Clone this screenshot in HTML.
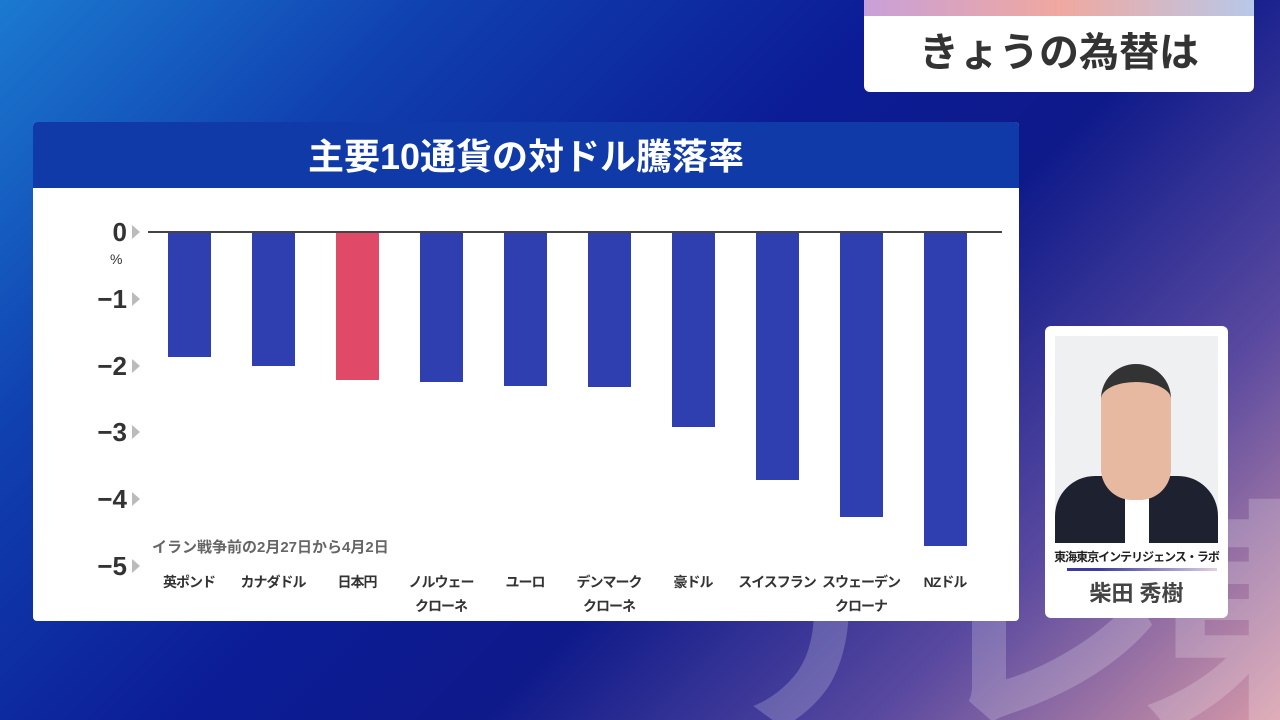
<!DOCTYPE html>
<html><head><meta charset="utf-8"><style>
html,body{margin:0;width:1280px;height:720px;overflow:hidden}
body{position:relative;font-family:"Liberation Sans","Noto Sans CJK JP",sans-serif;
background:linear-gradient(135deg,#1b7ad0 0%,#1040b0 22%,#0c1c96 45%,#0e1a8a 60%,#5a4aa0 80%,#d89aa8 100%);}
.abs{position:absolute}
</style></head><body>
<div class="abs" style="left:700px;top:500px;font-size:250px;color:rgba(255,255,255,0.2);font-weight:bold;letter-spacing:-30px;line-height:1;white-space:nowrap">テレ東</div>
<div class="abs" style="left:864px;top:0;width:390px;height:92px;background:#fff;border-radius:0 0 6px 6px;overflow:hidden">
 <div style="height:16px;background:linear-gradient(90deg,#c8a0d8,#f0a8a0,#b8c8e8)"></div>
 <div style="text-align:center;font-size:40px;font-weight:bold;color:#333;line-height:74px">きょうの為替は</div>
</div>
<div class="abs" style="left:33px;top:122px;width:986px;height:499px;background:#fff;border-radius:4px;overflow:hidden">
 <div style="height:66px;background:#0f3aa8;color:#fff;font-size:36px;font-weight:bold;text-align:center;line-height:70px">主要10通貨の対ドル騰落率</div>
</div>
<svg class="abs" style="left:0;top:0" width="1280" height="720">
<g font-family="Liberation Sans, Noto Sans CJK JP, sans-serif" font-weight="bold" fill="#333">
<g font-size="26" text-anchor="end">
<text x="127" y="241">0</text><text x="127" y="308">−1</text><text x="127" y="375">−2</text><text x="127" y="441">−3</text><text x="127" y="508">−4</text><text x="127" y="575">−5</text>
</g>
<text x="110" y="264" font-size="14" font-weight="normal">%</text>
<g fill="#bbb"><path d="M132 225l8 7-8 7z"/><path d="M132 292l8 7-8 7z"/><path d="M132 359l8 7-8 7z"/><path d="M132 425l8 7-8 7z"/><path d="M132 492l8 7-8 7z"/><path d="M132 559l8 7-8 7z"/></g>
<g fill="#2f3fb0">
<rect x="168" y="233" width="43" height="124"/><rect x="252" y="233" width="43" height="133"/>
<rect x="336" y="233" width="43" height="147" fill="#e04a68"/>
<rect x="420" y="233" width="43" height="149"/><rect x="504" y="233" width="43" height="153"/>
<rect x="588" y="233" width="43" height="154"/><rect x="672" y="233" width="43" height="194"/>
<rect x="756" y="233" width="43" height="247"/><rect x="840" y="233" width="43" height="284"/>
<rect x="924" y="233" width="43" height="313"/>
</g>
<line x1="148" y1="232" x2="1002" y2="232" stroke="#444" stroke-width="2"/>
<text x="152" y="552" font-size="15" fill="#666">イラン戦争前の2月27日から4月2日</text>
<g font-size="14" text-anchor="middle" letter-spacing="-1">
<text x="189" y="587">英ポンド</text><text x="273" y="587">カナダドル</text><text x="357" y="587">日本円</text>
<text x="441" y="587">ノルウェー</text><text x="441" y="611">クローネ</text>
<text x="525" y="587">ユーロ</text>
<text x="609" y="587">デンマーク</text><text x="609" y="611">クローネ</text>
<text x="693" y="587">豪ドル</text><text x="777" y="587">スイスフラン</text>
<text x="861" y="587">スウェーデン</text><text x="861" y="611">クローナ</text>
<text x="945" y="587">NZドル</text>
</g>
</g>
</svg>
<div class="abs" style="left:1045px;top:326px;width:183px;height:292px;background:#fff;border-radius:6px">
 <div class="abs" style="left:10px;top:10px;width:163px;height:207px;background:#eef0f2;overflow:hidden">
  <div class="abs" style="left:0;top:140px;width:163px;height:80px;background:#1e2230;border-radius:40px 40px 0 0"></div>
  <div class="abs" style="left:70px;top:150px;width:24px;height:60px;background:#fff"></div>
  <div class="abs" style="left:46px;top:28px;width:70px;height:118px;background:#e6b9a0;border-radius:36px 36px 32px 32px;border-top:18px solid #333"></div>
 </div>
 <div class="abs" style="left:0;top:222px;width:183px;text-align:center;font-size:12px;font-weight:bold;color:#222;letter-spacing:-1px;white-space:nowrap">東海東京インテリジェンス・ラボ</div>
 <div class="abs" style="left:22px;top:242px;width:150px;height:3px;background:linear-gradient(90deg,#3a3aa0 0 20%,#e0d0e0)"></div>
 <div class="abs" style="left:0;top:250px;width:183px;text-align:center;font-size:22px;font-weight:bold;color:#444">柴田 秀樹</div>
</div>
</body></html>
